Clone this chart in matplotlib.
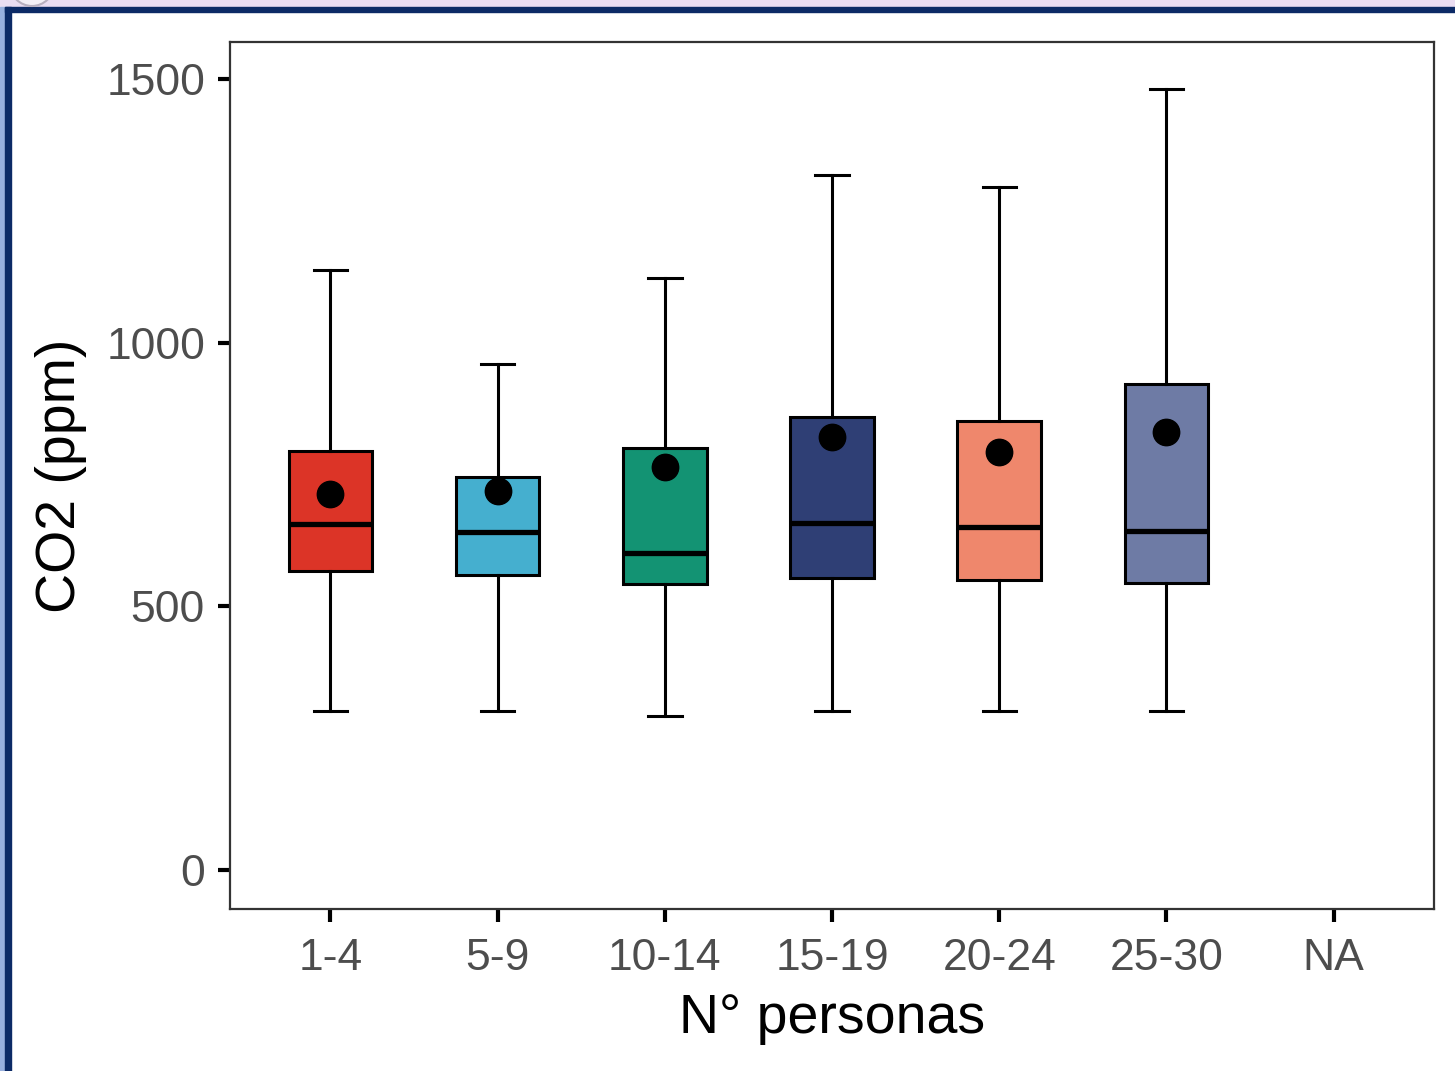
import matplotlib
matplotlib.use("Agg")
from matplotlib import pyplot as plt
from matplotlib.patches import Rectangle, Circle

plt.rcParams["font.family"] = ["Liberation Sans", "DejaVu Sans"]

# groups on the x axis (NA has no data)
groups = ["1-4", "5-9", "10-14", "15-19", "20-24", "25-30", "NA"]
whis_low = [301, 301, 292, 301, 301, 301]
q1 = [567, 559, 542, 554, 550, 544]
median = [656, 641, 601, 658, 650, 643]
q3 = [794, 745, 800, 859, 851, 921]
whis_high = [1138, 959, 1122, 1318, 1295, 1481]
means = [713, 719, 764, 821, 793, 830]
colors = ["#DC3427", "#45AFCF", "#139373", "#2F3F75", "#EF876C", "#6E7BA5"]

stats = []
for i in range(len(q1)):
    stats.append(dict(whislo=whis_low[i], q1=q1[i], med=median[i], q3=q3[i],
                      whishi=whis_high[i], mean=means[i], fliers=[]))

fig = plt.figure(figsize=(14.55, 10.71), dpi=100)
fig.patch.set_facecolor("white")

# screenshot frame round the plot
W, H = 1455, 1071
fig.patches.append(Rectangle((0, 1 - 7 / H), 1, 7 / H, transform=fig.transFigure,
                             color="#EADDF2", zorder=0))
fig.patches.append(Rectangle((5 / W, 1 - 12 / H), 1, 5 / H, transform=fig.transFigure,
                             color="#0C2A66", zorder=1))
fig.patches.append(Rectangle((0, 0), 5 / W, 1 - 7 / H, transform=fig.transFigure,
                             color="#98B0DE", zorder=0))
fig.patches.append(Rectangle((5 / W, 0), 6 / W, 1 - 7 / H, transform=fig.transFigure,
                             color="#0C2A66", zorder=1))
fig.patches.append(Circle((32, H + 16), 22, transform=None, facecolor="#F4F0F7",
                          edgecolor="#B8B0C0", lw=1.5, zorder=2))

ax = fig.add_axes([230 / W, 162 / H, 1204 / W, 867 / H])
pos = list(range(1, len(q1) + 1))
bp = ax.bxp(stats, positions=pos, widths=0.5, patch_artist=True, showmeans=True,
            showfliers=False,
            boxprops=dict(edgecolor="black", linewidth=2.2),
            whiskerprops=dict(color="black", linewidth=2.2),
            capprops=dict(color="black", linewidth=2.2),
            medianprops=dict(color="black", linewidth=3.8),
            meanprops=dict(marker="o", markerfacecolor="black", markeredgecolor="black",
                           markersize=19))
for box, c in zip(bp["boxes"], colors):
    box.set_facecolor(c)
for cap in bp["caps"]:
    x0, x1 = cap.get_xdata()
    xc = (x0 + x1) / 2
    cap.set_xdata([xc - 0.1, xc + 0.1])

ax.set_xlim(0.4, 7.6)
ax.set_ylim(-74, 1570)
ax.set_xticks(range(1, len(groups) + 1))
ax.set_xticklabels(groups)
ax.set_yticks([0, 500, 1000, 1500])
ax.tick_params(axis="both", length=9, width=3, color="black", labelsize=32,
               labelcolor="#4D4D4D")
ax.tick_params(axis="x", pad=12)
ax.tick_params(axis="y", pad=9)
for s in ax.spines.values():
    s.set_color("#333333")
    s.set_linewidth(1.6)

ax.set_xlabel("N\u00b0 personas", fontsize=40, color="black", labelpad=10)
ax.set_ylabel("CO2 (ppm)", fontsize=40, color="black", labelpad=14)

fig.savefig("out.png", dpi=100)
